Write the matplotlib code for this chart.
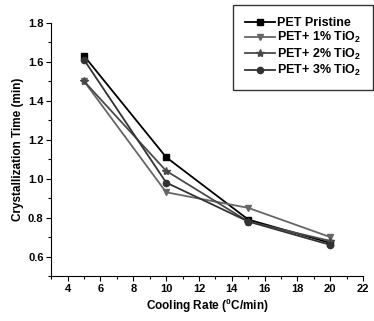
import matplotlib
matplotlib.use('Agg')
import matplotlib.pyplot as plt
from matplotlib.ticker import MultipleLocator

plt.rcParams['font.family'] = ['Liberation Sans', 'DejaVu Sans']
plt.rcParams['font.weight'] = 'bold'
plt.rcParams['mathtext.default'] = 'regular'

# data
rate = [5, 10, 15, 20]
pristine = [1.63, 1.11, 0.79, 0.67]
tio2_1 = [1.50, 0.93, 0.85, 0.70]
tio2_2 = [1.50, 1.04, 0.78, 0.68]
tio2_3 = [1.61, 0.98, 0.78, 0.66]

fig = plt.figure(figsize=(3.74, 3.21), dpi=100)
ax = fig.add_axes([0.137, 0.14, 0.834, 0.789])

ax.plot(rate, pristine, '-s', color='#000000', lw=1.3, ms=5, label='PET Pristine')
ax.plot(rate, tio2_1, '-v', color='#666666', lw=1.3, ms=5, label='PET+ 1% TiO$_2$')
ax.plot(rate, tio2_2, '-*', color='#4a4a4a', lw=1.3, ms=6, label='PET+ 2% TiO$_2$')
ax.plot(rate, tio2_3, '-o', color='#333333', lw=1.3, ms=4.5, label='PET+ 3% TiO$_2$')

ax.set_xlim(3, 22)
ax.set_ylim(0.5, 1.8)
ax.xaxis.set_major_locator(MultipleLocator(2))
ax.xaxis.set_minor_locator(MultipleLocator(1))
ax.yaxis.set_major_locator(MultipleLocator(0.2))
ax.yaxis.set_minor_locator(MultipleLocator(0.1))
ax.tick_params(which='major', direction='out', length=3.5, width=0.8, labelsize=8, pad=2)
ax.tick_params(which='minor', direction='out', length=2, width=0.8)
for lab in ax.get_xticklabels() + ax.get_yticklabels():
    lab.set_fontweight('bold')

ax.spines['top'].set_visible(False)
ax.spines['right'].set_visible(False)

ax.set_xlabel('Cooling Rate ($^0$C/min)', fontsize=8.5, fontweight='bold', labelpad=2)
ax.set_ylabel('Crystallization Time (min)', fontsize=8.5, fontweight='bold', labelpad=3)

leg = ax.legend(loc='upper right', bbox_to_anchor=(1.032, 1.07), borderaxespad=0,
                fontsize=9, frameon=True, fancybox=False, edgecolor='black',
                handlelength=2.4, handletextpad=0.15, labelspacing=0.1, borderpad=0.95)
leg.get_frame().set_linewidth(1.0)
for t in leg.get_texts():
    t.set_fontweight('bold')

fig.savefig('out.png', dpi=100)
